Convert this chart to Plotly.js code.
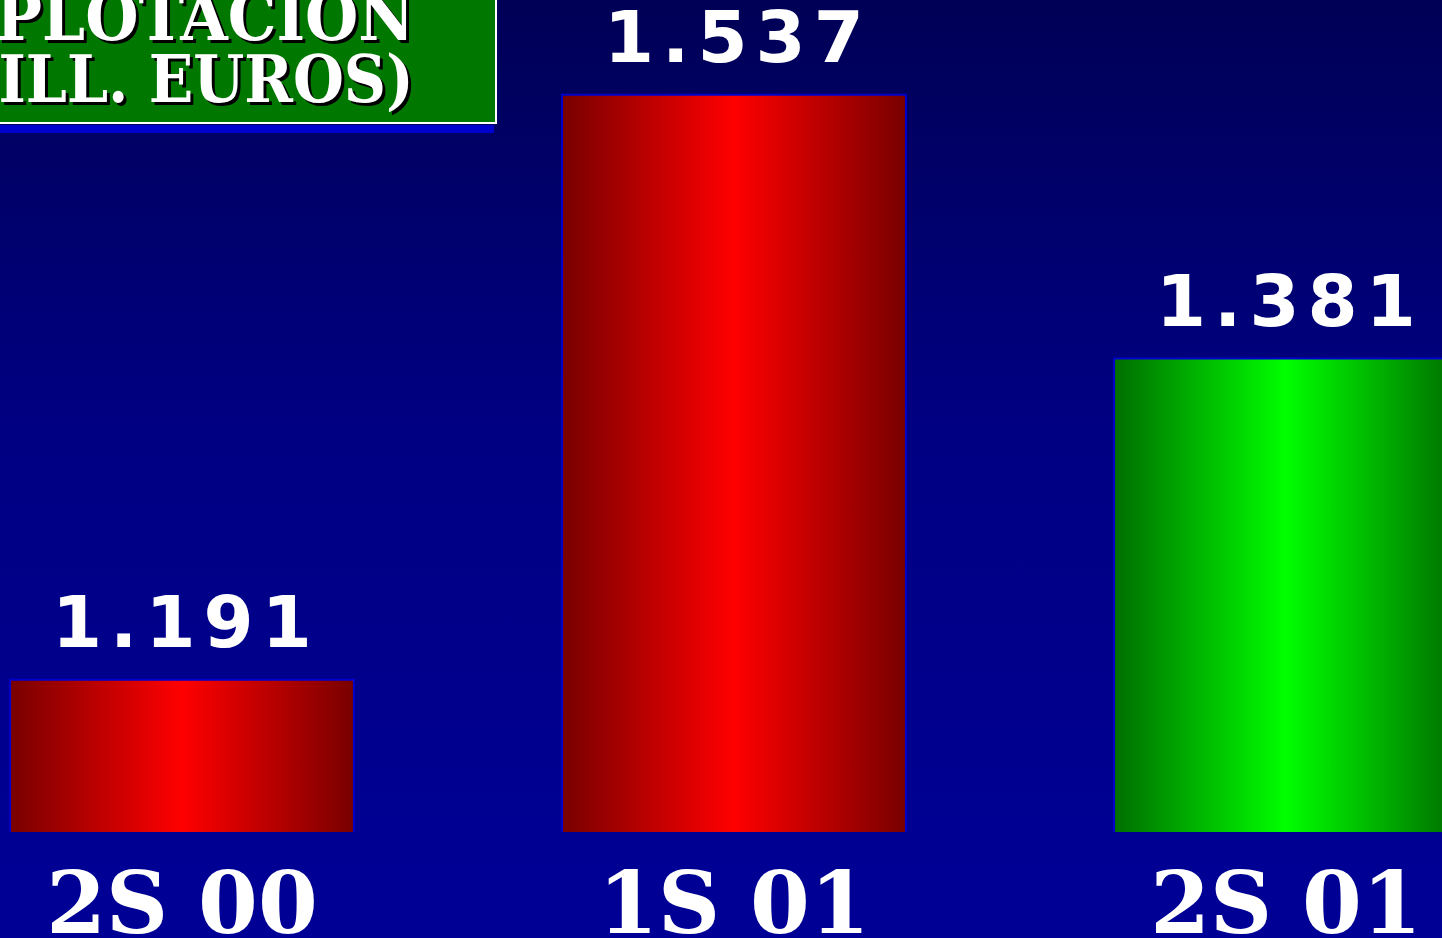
<!DOCTYPE html>
<html>
<head>
<meta charset="utf-8">
<script src="https://cdn.plot.ly/plotly-3.0.1.min.js"></script>
<style>
  html, body { margin: 0; padding: 0; width: 1442px; height: 938px; overflow: hidden;
    background: linear-gradient(to bottom, #000056 0%, #000082 45%, #000096 100%); }
  #chart { width: 1442px; height: 938px; }
  .annotation[data-index="2"] .annotation-text,
  .annotation[data-index="3"] .annotation-text,
  .annotation[data-index="4"] .annotation-text { letter-spacing: 8px; }
</style>
</head>
<body>
<div id="chart"></div>
<script>
// ---- data ----
const categories = ['2S 00', '1S 01', '2S 01'];
const values = [1191, 1537, 1381];
const valueLabels = ['1.191', '1.537', '1.381'];
const barColors = ['red', 'red', 'green'];
const titleLines = ['EXPLOTACION', '(MILL. EUROS)'];

const W = 1442, H = 938;
const plotH = 832;

const trace = {
  type: 'bar',
  x: categories,
  y: values,
  width: 0.623,
  cliponaxis: false,
  marker: { color: barColors, line: { color: '#0000cc', width: 2 } },
  hoverinfo: 'none'
};

const px = (p) => p / W;                 // x pixel -> paper
const py = (p) => 1 - p / plotH;         // y pixel -> paper

const titleFont = (s) => ({ family: 'DejaVu Serif Condensed, DejaVu Serif', size: s, color: '#ffffff', weight: 700, shadow: '3px 3px 0px #000000' });

const annotations = [
  { xref: 'paper', yref: 'paper', x: px(416), y: py(43), xanchor: 'right', yanchor: 'bottom', yshift: -15,
    text: titleLines[0], showarrow: false, font: titleFont(68) },
  { xref: 'paper', yref: 'paper', x: px(416), y: py(105), xanchor: 'right', yanchor: 'bottom', yshift: -14,
    text: titleLines[1], showarrow: false, font: titleFont(65) }
];
categories.forEach(function (c, i) {
  annotations.push({
    xref: 'x', yref: 'y', x: c, y: values[i], xanchor: 'center', yanchor: 'bottom',
    yshift: 14, xshift: 4, text: valueLabels[i], showarrow: false,
    font: { family: 'DejaVu Sans', size: 72, color: '#ffffff', weight: 700 }
  });
});

const layout = {
  width: W, height: H,
  margin: { l: 0, r: 0, t: 0, b: H - plotH, pad: 0 },
  paper_bgcolor: 'rgba(0,0,0,0)',
  plot_bgcolor: 'rgba(0,0,0,0)',
  showlegend: false,
  xaxis: {
    type: 'category',
    range: [-0.3297, 2.2826],
    showgrid: false, zeroline: false, showline: false, ticks: '',
    tickfont: { family: 'DejaVu Serif', size: 86, color: '#ffffff', weight: 700 },
    ticklabelstandoff: 14
  },
  yaxis: {
    range: [1101, 1593],
    visible: false, showgrid: false, zeroline: false
  },
  shapes: [
    { type: 'rect', xref: 'paper', yref: 'paper', x0: px(0), x1: px(494), y0: py(133), y1: py(125),
      fillcolor: '#0000cc', line: { width: 0 }, layer: 'below' },
    { type: 'rect', xref: 'paper', yref: 'paper', x0: px(-20), x1: px(496), y0: py(123), y1: py(-20),
      fillcolor: '#007800', line: { color: '#ffffff', width: 2 }, layer: 'below' }
  ],
  annotations: annotations
};

Plotly.newPlot('chart', [trace], layout, { staticPlot: true, displayModeBar: false }).then(function (gd) {
  const svg = gd.querySelector('svg.main-svg');
  const ns = 'http://www.w3.org/2000/svg';
  const defs = document.createElementNS(ns, 'defs');
  const stops = {
    red: ['#780000', '#ff0000', '#780000'],
    green: ['#006e00', '#00ff00', '#006e00']
  };
  Object.keys(stops).forEach(function (k) {
    const g = document.createElementNS(ns, 'linearGradient');
    g.setAttribute('id', 'grad-' + k);
    g.setAttribute('x1', '0'); g.setAttribute('x2', '1');
    g.setAttribute('y1', '0'); g.setAttribute('y2', '0');
    [0, 0.5, 1].forEach(function (o, i) {
      const s = document.createElementNS(ns, 'stop');
      s.setAttribute('offset', o);
      s.setAttribute('stop-color', stops[k][i]);
      g.appendChild(s);
    });
    defs.appendChild(g);
  });
  svg.insertBefore(defs, svg.firstChild);
  const paths = gd.querySelectorAll('.trace.bars .point path');
  paths.forEach(function (p, i) {
    p.style.fill = 'url(#grad-' + barColors[i] + ')';
  });
});
</script>
</body>
</html>
